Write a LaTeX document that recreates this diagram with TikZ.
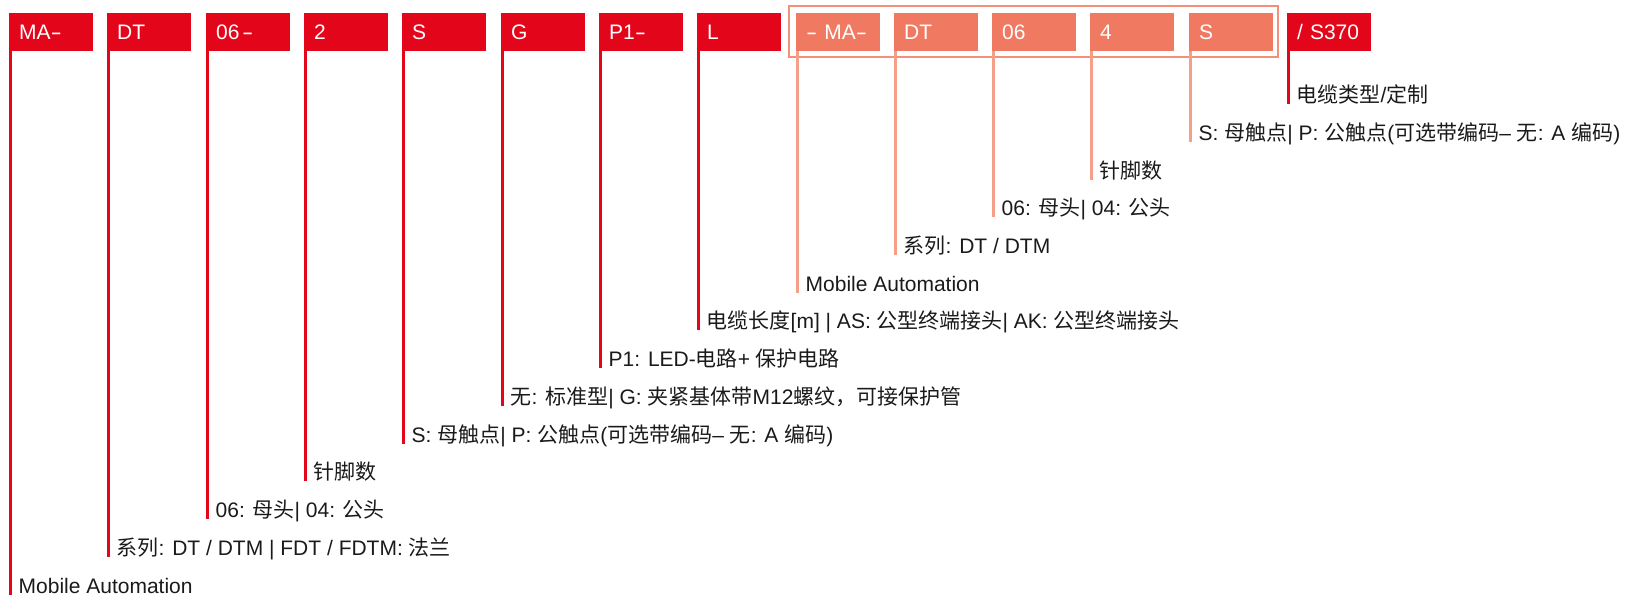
\documentclass[tikz,border=0pt]{standalone}
\usepackage{fontspec}
\setmainfont{Liberation Sans}
\newfontfamily\cjkfont{Noto Sans CJK SC}
\newcommand{\zh}[1]{{\cjkfont #1}}
\newcommand{\bdash}{\scalebox{1.6}[1]{-}}
\definecolor{cred}{HTML}{E3061B}
\definecolor{csal}{HTML}{EF7961}
\definecolor{cline}{HTML}{F4A089}
\definecolor{cframe}{HTML}{F2907A}
\definecolor{ctext}{HTML}{1A1A1A}
\tikzset{
  redbox/.style={fill=cred, draw=none, anchor=north west, minimum width=84pt, minimum height=38pt,
    inner xsep=10pt, inner ysep=0pt, text width=64pt, align=left, text=white,
    text height=15pt, text depth=0pt, font=\fontsize{21pt}{25pt}\selectfont},
  salbox/.style={redbox, fill=csal},
  lab/.style={anchor=base west, inner sep=0pt, text=ctext, font=\fontsize{21pt}{25pt}\selectfont},
  redline/.style={draw=cred, line width=2.4pt},
  salline/.style={draw=cline, line width=2.4pt},
  framebox/.style={draw=cframe, line width=2.2pt},
}
\begin{document}
\begin{tikzpicture}[x=1pt,y=-1pt]
\useasboundingbox (0,0) rectangle (1629,600);
% frame around the salmon group
\draw[framebox] (789,6) rectangle (1278,57);
% boxes
\node[redbox] (b0) at (9,13) {MA\bdash};
\node[redbox] (b1) at (107,13) {DT};
\node[redbox] (b2) at (206,13) {06\hspace{2.5pt}\bdash};
\node[redbox] (b3) at (304,13) {2};
\node[redbox] (b4) at (402,13) {S};
\node[redbox] (b5) at (501,13) {G};
\node[redbox] (b6) at (599,13) {P1\bdash};
\node[redbox] (b7) at (697,13) {L};
\node[salbox] (b8) at (796,13) {\bdash{} MA\bdash};
\node[salbox] (b9) at (894,13) {DT};
\node[salbox] (b10) at (992,13) {06};
\node[salbox] (b11) at (1090,13) {4};
\node[salbox] (b12) at (1189,13) {S};
\node[redbox] (b13) at (1287,13) {/ S370};
% labels
\node[lab] (l0) at (18.5,593.0) {Mobile Automation};
\node[lab] (l1) at (116.5,555.3) {\zh{系列}: DT / DTM | FDT / FDTM: \zh{法兰}};
\node[lab] (l2) at (215.5,517.5) {06: \zh{母头}| 04: \zh{公头}};
\node[lab] (l3) at (313.5,479.8) {\zh{针脚数}};
\node[lab] (l4) at (411.5,442.1) {S: \zh{母触点}| P: \zh{公触点}(\zh{可选带编码}– \zh{无}: A \zh{编码})};
\node[lab] (l5) at (510.5,404.3) {\zh{无}: \zh{标准型}| G: \zh{夹紧基体带}M12\zh{螺纹，可接保护管}};
\node[lab] (l6) at (608.5,366.6) {P1: LED-\zh{电路}+ \zh{保护电路}};
\node[lab] (l7) at (706.5,328.9) {\zh{电缆长度}[m] | AS: \zh{公型终端接头}| AK: \zh{公型终端接头}};
\node[lab] (l8) at (805.5,291.2) {Mobile Automation};
\node[lab] (l9) at (903.5,253.4) {\zh{系列}: DT / DTM};
\node[lab] (l10) at (1001.5,215.7) {06: \zh{母头}| 04: \zh{公头}};
\node[lab] (l11) at (1099.5,178.0) {\zh{针脚数}};
\node[lab] (l12) at (1198.5,140.2) {S: \zh{母触点}| P: \zh{公触点}(\zh{可选带编码}– \zh{无}: A \zh{编码})};
\node[lab] (l13) at (1296.5,102.5) {\zh{电缆类型}/\zh{定制}};
% line ends
\coordinate (e0) at (10.5,594.5);
\coordinate (e1) at (108.5,556.8);
\coordinate (e2) at (207.5,519.0);
\coordinate (e3) at (305.5,481.3);
\coordinate (e4) at (403.5,443.6);
\coordinate (e5) at (502.5,405.8);
\coordinate (e6) at (600.5,368.1);
\coordinate (e7) at (698.5,330.4);
\coordinate (e8) at (797.5,292.7);
\coordinate (e9) at (895.5,254.9);
\coordinate (e10) at (993.5,217.2);
\coordinate (e11) at (1091.5,179.5);
\coordinate (e12) at (1190.5,141.7);
\coordinate (e13) at (1288.5,104.0);
% connectors
\foreach \i in {0,...,7,13} {
  \draw[redline] ([xshift=1.5pt]b\i.south west) -- (e\i);
}
\foreach \i in {8,...,12} {
  \draw[salline] ([xshift=1.5pt]b\i.south west) -- (e\i);
}
\end{tikzpicture}
\end{document}
